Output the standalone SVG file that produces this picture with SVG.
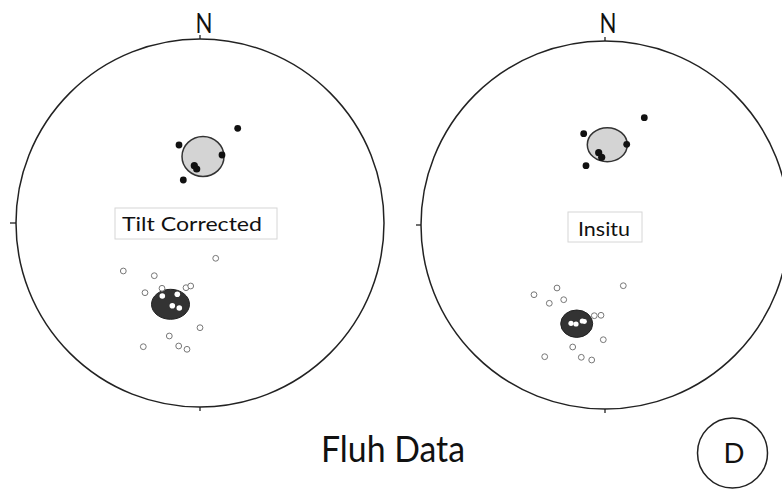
<svg xmlns="http://www.w3.org/2000/svg" width="782" height="489" viewBox="0 0 782 489">
<style>
.net{fill:none;stroke:#222;stroke-width:1.5}
.tick{stroke:#222;stroke-width:1.3}
.lbl{font-family:Lato,"Liberation Sans",Arial,sans-serif;fill:#111}
.box{fill:#fff;stroke:#d6d6d6;stroke-width:1}
.fill{fill:#111}
.open{fill:#fff;stroke:#777;stroke-width:1}
.wd{fill:#fff}
.conf1{fill:#d4d4d4;stroke:#333;stroke-width:1.5}
.conf2{fill:#333;stroke:#222;stroke-width:1}
</style>
<rect width="782" height="489" fill="#fff"/>
<g id="net-left">
<circle class="net" cx="200" cy="223" r="184"/>
<line class="tick" x1="200" y1="35" x2="200" y2="39"/>
<line class="tick" x1="10" y1="223" x2="16" y2="223"/>
<line class="tick" x1="200" y1="407" x2="200" y2="411"/>
<text class="lbl" x="204" y="33" font-size="27" text-anchor="middle" textLength="17" lengthAdjust="spacingAndGlyphs">N</text>
</g>
<g id="net-right">
<circle class="net" cx="605" cy="225" r="184"/>
<line class="tick" x1="605" y1="37" x2="605" y2="41"/>
<line class="tick" x1="416" y1="225" x2="421" y2="225"/>
<line class="tick" x1="605" y1="409" x2="605" y2="413"/>
<text class="lbl" x="608" y="33" font-size="27" text-anchor="middle" textLength="17" lengthAdjust="spacingAndGlyphs">N</text>
</g>
<g id="left-upper">
<ellipse class="conf1" cx="203" cy="156.5" rx="21" ry="20"/>
<circle class="fill" cx="237.7" cy="128.3" r="3.4"/>
<circle class="fill" cx="179" cy="145" r="3.4"/>
<circle class="fill" cx="222" cy="155" r="3.4"/>
<circle class="fill" cx="194.3" cy="165.7" r="3.6"/>
<circle class="fill" cx="196.7" cy="169" r="3.6"/>
<circle class="fill" cx="183.3" cy="180" r="3.4"/>
</g>
<g id="left-lower">
<ellipse class="conf2" cx="170.5" cy="304.3" rx="19" ry="15"/>
<circle class="wd" cx="162.3" cy="296" r="2.8"/>
<circle class="wd" cx="177.3" cy="294.3" r="2.8"/>
<circle class="wd" cx="172.3" cy="305.7" r="2.8"/>
<circle class="wd" cx="179.3" cy="308" r="2.8"/>
<circle class="open" cx="215.7" cy="258.3" r="2.9"/>
<circle class="open" cx="123.3" cy="271" r="2.9"/>
<circle class="open" cx="154.3" cy="275.7" r="2.9"/>
<circle class="open" cx="145" cy="292.7" r="2.9"/>
<circle class="open" cx="162" cy="288.3" r="2.9"/>
<circle class="open" cx="186" cy="287.7" r="2.9"/>
<circle class="open" cx="190.7" cy="286" r="2.9"/>
<circle class="open" cx="200" cy="327.7" r="2.9"/>
<circle class="open" cx="169.3" cy="336" r="2.9"/>
<circle class="open" cx="143.3" cy="346.7" r="2.9"/>
<circle class="open" cx="178.7" cy="346" r="2.9"/>
<circle class="open" cx="187" cy="349.3" r="2.9"/>
</g>
<g id="right-upper">
<ellipse class="conf1" cx="607.3" cy="144.7" rx="20" ry="17"/>
<circle class="fill" cx="644.3" cy="117.7" r="3.4"/>
<circle class="fill" cx="583.7" cy="133.7" r="3.4"/>
<circle class="fill" cx="626.7" cy="144.3" r="3.4"/>
<circle class="fill" cx="598.7" cy="152.7" r="3.6"/>
<circle class="fill" cx="601.7" cy="157.3" r="3.6"/>
<circle class="fill" cx="586" cy="165.7" r="3.4"/>
</g>
<g id="right-lower">
<ellipse class="conf2" cx="576.7" cy="323.7" rx="16" ry="13.7"/>
<circle class="wd" cx="571" cy="323.3" r="2.6"/>
<circle class="wd" cx="576" cy="324" r="2.6"/>
<circle class="wd" cx="582.3" cy="321" r="2.6"/>
<circle class="wd" cx="584.5" cy="321.5" r="2.4"/>
<circle class="open" cx="623.3" cy="285.7" r="2.9"/>
<circle class="open" cx="534" cy="294.7" r="2.9"/>
<circle class="open" cx="557" cy="288" r="2.9"/>
<circle class="open" cx="549.3" cy="303.3" r="2.9"/>
<circle class="open" cx="563.7" cy="299.7" r="2.9"/>
<circle class="open" cx="594.3" cy="315.7" r="2.9"/>
<circle class="open" cx="601" cy="315.3" r="2.9"/>
<circle class="open" cx="603.3" cy="339.7" r="2.9"/>
<circle class="open" cx="572.7" cy="347" r="2.9"/>
<circle class="open" cx="544.7" cy="356.7" r="2.9"/>
<circle class="open" cx="581.3" cy="357.3" r="2.9"/>
<circle class="open" cx="591.7" cy="360" r="2.9"/>
</g>
<g id="label-tilt">
<rect class="box" x="115" y="208" width="162" height="31"/>
<text class="lbl" x="122" y="230.5" font-size="20" textLength="140" lengthAdjust="spacingAndGlyphs">Tilt Corrected</text>
</g>
<g id="label-insitu">
<rect class="box" x="568" y="212" width="74" height="30"/>
<text class="lbl" x="578" y="235.5" font-size="20" textLength="52" lengthAdjust="spacingAndGlyphs">Insitu</text>
</g>
<g id="title">
<text class="lbl" x="321" y="462" font-size="37" textLength="144" lengthAdjust="spacingAndGlyphs">Fluh Data</text>
</g>
<g id="panel-d">
<circle class="net" cx="732.5" cy="453" r="35" stroke-width="2"/>
<text class="lbl" x="734" y="463" font-size="27" text-anchor="middle" textLength="21" lengthAdjust="spacingAndGlyphs">D</text>
</g>
</svg>
